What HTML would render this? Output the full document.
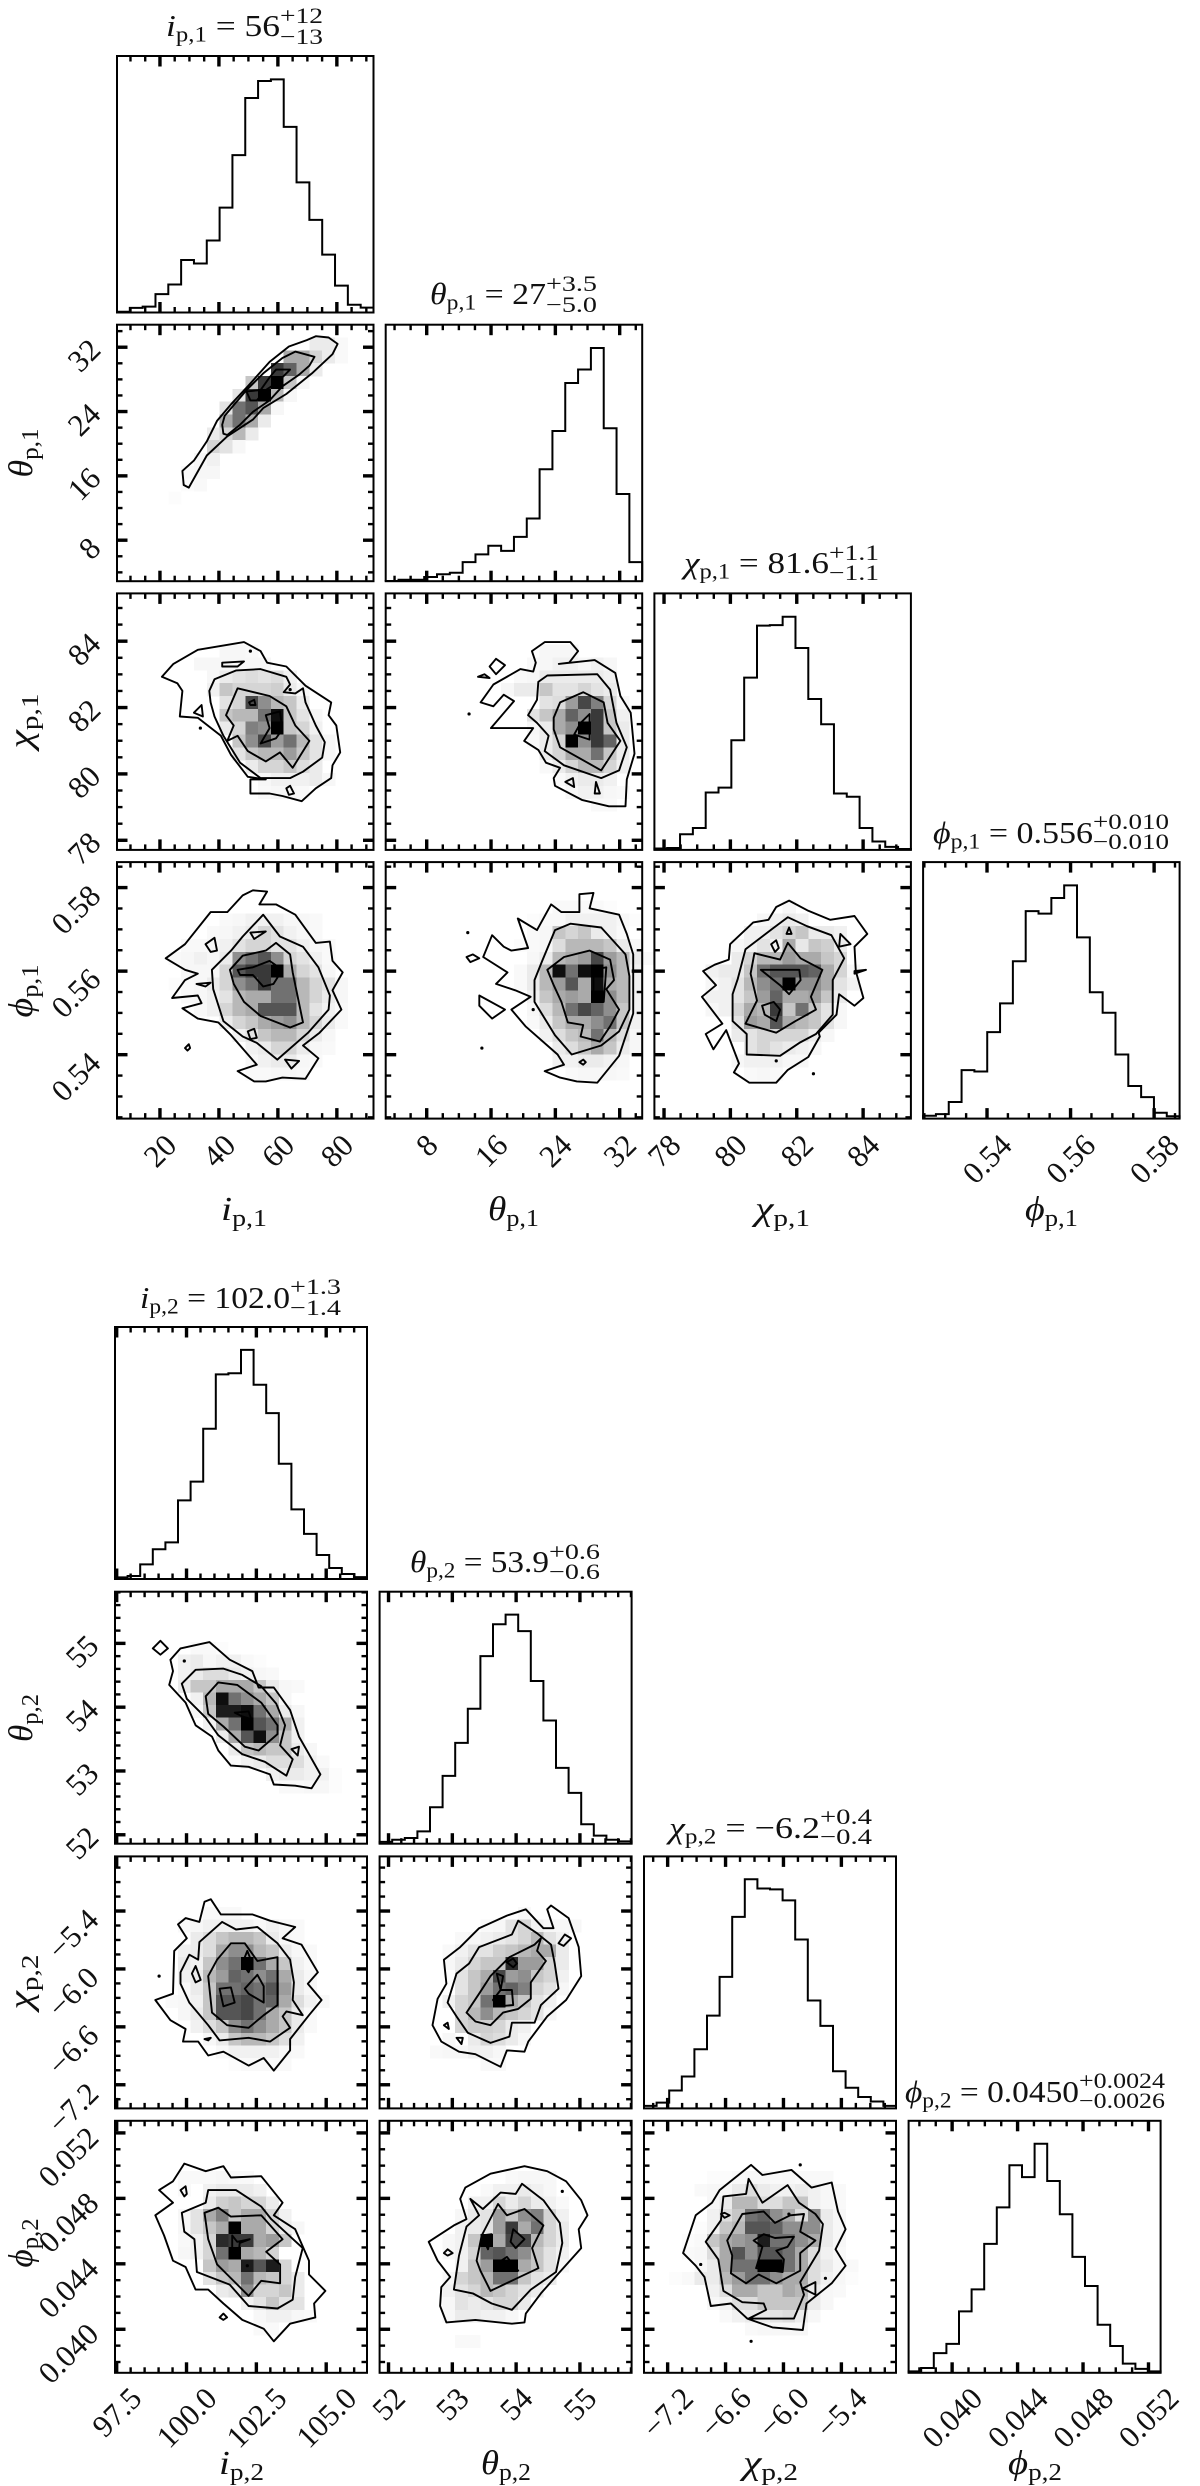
<!DOCTYPE html>
<html lang="en">
<head>
<meta charset="utf-8">
<title>Corner plots of planet orbital parameters</title>
<style>
html,body{margin:0;padding:0;background:#fff;}
svg{display:block;}
text{font-family:"Liberation Serif","DejaVu Serif",serif;fill:#111;}
</style>
</head>
<body>
<svg id="chart" xmlns="http://www.w3.org/2000/svg" width="1200" height="2486" viewBox="0 0 1200 2486"></svg>
<script>
/* ---------- 1-D histogram values (20 bins, percent of peak) ---------- */
const hist_i1=[0.3,2,2.5,7.9,12,22.5,21,30.9,45,67.5,92,99.3,100,79.6,55.8,39.7,24.8,11.5,3.3,2.1];
const hist_t1=[0.1,0.6,0.6,1.8,3,3.6,8.2,11.5,15.2,13,19,26.9,48,64.4,85,90.8,100,65.6,37.4,8.2];
const hist_c1=[0.6,0.8,6.7,9.4,24.6,26.7,47,73.9,96.2,96.4,100,86.6,64.7,53.9,24.2,22.8,9.4,3.6,1.3,0.4];
const hist_p1=[1.2,1.9,7.1,20.8,20.2,37.1,49.4,67.5,89,87.9,94.6,100,77.7,54.2,45.4,27.5,14,9.2,2.5,1];
const hist_i2=[0.7,1.3,6.4,13,16,34.3,42.5,65.6,89.3,89.8,100,84.8,72.4,50.3,30.4,19.7,10.5,4.8,2.2,0.8];
const hist_t2=[0.8,1.7,2.5,5.4,15.9,29.6,44,58.9,81.9,95.8,100,92.8,71,53.8,33.1,22.2,8.5,3.5,1.7,1];
const hist_c2=[1.1,2.5,7.8,13.9,25.8,40.5,57.4,83.6,100,96,95.6,90.8,73.7,47.1,36,16.2,9,5,3,1.1];
const hist_p2=[0.6,2.1,8.6,12.6,26.8,36.4,56.3,72.2,90.6,85.4,100,83.7,69.2,50.6,37.9,21,11.7,4,1.7,0.6];

/* ---------- 2-D density: [rowBin, startColBin, density 0-9 ...] ---------- */
const heat_i1_t1=[[18,15,.7,.7,.2],[17,13,3,3,1.5,.7,.2],[16,12,7,5.5,3,.7],[15,10,2,7,9,2,.3],[14,9,1,7,9,2.5,.3],[13,8,1,5,6,3,.3],[12,8,3,5,3,.7],[11,7,.7,1.5,2.5,.7],[10,7,1.5,1,.3],[9,6,.3,.5],[8,5,.2,.3,.3],[7,5,.1,.2],[6,4,.1]];
const heat_i1_c1=[[15,8,.3,.3,.2],[14,6,.3,.3,.3,.3,.3,.3],[13,7,.3,.7,1,1.2,1,1.2,.5],[12,7,.5,2,1.5,1.5,1.5,1.7,.7,.3],[11,8,1,1.5,6.5,4,2.5,2,.7],[10,8,2,2.5,2.5,5,8.5,2,1,.3],[9,8,.7,1.5,4.5,4,9,2,1.5,.5],[8,9,2,4,6.5,3.5,5,2.5,1,.3],[7,9,1,2,2.5,2.5,3.5,2,1,.3],[6,10,.7,1.5,1.5,2,1.2,.7],[5,11,.3,.5,.5,.5,.7,.3],[4,11,.2,.3,.3,.2]];
const heat_i1_p1=[[15,8,.2,.3,.5,.5,.5,.3,.3,.2],[14,7,.2,.3,.5,.7,1.5,1,.5,.3,.2],[13,5,.2,.2,.3,.5,1,1.5,1.5,1,1,.5,.3,.2],[12,4,.2,.3,.5,.3,.7,4,5,6,4,1.5,1,.5,.2],[11,5,.3,.3,.3,1.5,6,7,7,9,3,1.5,1,.3],[10,4,.1,.2,.3,.7,1.5,4,5,7,5,5,2.5,1.5,1,.3],[9,5,.2,.3,.5,1,2.5,3,3,5,5,2.5,1.5,.7,.3],[8,6,.2,.5,1.5,2.5,3,6,6,6,2.5,1,.5,.2],[7,8,.7,1.5,2,3,3.5,4,2.5,1.5,.7,.2],[6,9,.5,1,2,2.5,2.5,1.5,.7,.3],[5,10,.5,.7,1.5,1.5,.7,.3,.2],[4,10,.3,.5,.7,.7,.3,.2],[3,10,.2,.2,.3,.3,.2]];
const heat_t1_c1=[[15,12,.3,.3,.3],[14,11,.2,.3,.5,.5,.3,.5,.3],[13,10,.2,.3,.7,.7,.7,.7,.7,.5],[12,9,.3,.7,.7,2,1,1,1.5,1,.7],[11,12,1,1.2,3.5,6.5,4.5,1.5,.3],[10,11,1,2,3,5.5,4,7,2,.5],[9,11,.3,.7,3,4,9,7,2,.7],[8,11,.2,.7,1.5,9,4,7,5.5,.7],[7,12,.7,1.5,3,3,5,2,.7],[6,12,.2,.7,1.5,2.5,2.5,1.5,.5],[5,13,.2,.5,.7,.7,.5],[4,14,.3,.5,.5,.3,.2],[3,16,.2,.2]];
const heat_t1_p1=[[16,13,.2,.2,.2,.2,.1],[15,11,.1,.2,.2,.5,.5,.5,.5,.3,.1],[14,11,.2,.3,2,1.5,2,.7,.5,.2],[13,10,.1,.2,.3,1.2,2.5,2.5,2.5,2,.7,.3],[12,11,.3,.7,2.5,3,3.5,6.5,3.5,2.5,.7,.2],[11,10,.2,.7,2.5,8.5,5,8.5,9,4,2.5,.5],[10,10,.2,.7,2.5,3.5,6,3,8.5,3,2.5,.5],[9,11,.5,2,3,3.5,3,9,4,2.5,.5],[8,11,.3,1.2,2.5,5,6.5,5.5,4,2,.5],[7,11,.2,.7,2,3,3,4,5,2,.5],[6,12,.5,1.2,2,2.5,5,2.5,1.2,.3],[5,13,.7,1.2,2,3,2,.7,.3],[4,13,.5,.5,.7,.7,.5,.3],[3,14,.2,.3,.3,.3,.2]];
const heat_c1_p1=[[16,10,.3],[15,8,.3,.5,.7,.5],[14,7,.5,.5,1,1.5,2,.7,.7,.5],[13,6,.3,.5,1,.5,3,.8,2,1.7,.7],[12,6,.7,1.5,2.5,2.5,3.5,3,3,2,1.5],[11,4,.5,.7,.7,2,5,6,6,6,5.5,3,1.5,.3],[10,4,.3,.5,1,2.5,4,5,9,4,4,3,1,.5],[9,4,.5,.5,1,2,3.5,5.5,3,3,3.5,2,.7],[8,4,.3,.5,1.5,3,2.5,7,2,5,2,1,.3],[7,6,1,3.5,3,6,3,2.5,2,1,.3],[6,6,.7,1,1.5,1.5,1.5,1.5,.7,.3],[5,7,1,1.5,1,.7,.5,.3],[4,6,.3,.5,.5,.5,.3,.3],[3,7,.2,.3,.2]];
const heat_i2_t2=[[15,6,.2,.2,.1],[14,5,.5,.7,.3,.5,.5,.2,.1],[13,5,.5,.7,1.2,1.2,.7,.5,.3,.2],[12,5,.7,2,2,3,3,3,2,.7,.3,.2],[11,6,.5,2.5,8.5,5,4,3,2,.3],[10,6,.3,2,8,8,8.5,5,3,.7,.3],[9,7,.5,3,5,9,6,5,3,.5],[8,8,.7,3,6,8.5,4,2,.5],[7,9,.7,2,2.5,2,2,.7,.3],[6,9,.2,.5,.7,1.2,1.2,1.2,.5,.2],[5,12,.5,.7,.7,.5,.5,.1],[4,13,.2,.2,.3,.3,.1]];
const heat_i2_c2=[[15,7,.2,.2,.2],[14,5,.2,.3,.5,.5,.5,.5,.3,.5,.3,.2],[13,6,.7,1.2,2,2.5,2.5,2,.7,.3,.2],[12,5,.5,.7,1.2,3,4,4,2.5,2,.7,.3,.2],[11,5,.7,.5,2,4,5,9,5,3,2,.5,.2],[10,5,.5,.7,2.5,3.5,5.5,5,4,5,3,.7,.3],[9,5,.2,.7,2,5,5,5.5,5,6,3.5,.7,.3],[8,4,.2,.3,.5,2,6,6,6.5,5,5.5,3,1.2,.5,.2],[7,5,.3,.7,2,6,6,6.5,5,3,2,.7,.2],[6,6,.5,1.2,2,4,5,4,3,2,.7,.2],[5,7,.3,.7,2,2.5,2.5,2,1.2,.5],[4,8,.2,.5,.5,.5,.5,.3,.2],[3,9,.1,.2,.2,.2,.2]];
const heat_i2_p2=[[15,5,.2,.2,.2,.3,.2,.2],[14,5,.2,0,.5,.7,.7,.7,.5],[13,7,.7,1.7,2,1.5,1.5,.7],[12,5,.3,1,3,4.5,2,3,3,1.5,.5],[11,5,.3,1,2,3,9,3,3,1.5,.7,.3],[10,5,.2,.5,1.5,7.5,7,7,3,3.5,2],[9,5,.3,.5,1.5,5,9,3,2.5,1.5],[8,7,2,3.5,3,8,6,8,1.5],[7,7,1,2,2.5,5,2.5,2,1.5,.7],[6,8,.7,1,4,1.5,1.5,2,.7],[5,10,.5,1,2,1,1],[4,11,.3,.5,.5,.3,.2],[3,11,.2,.2]];
const heat_t2_c2=[[15,11,.2],[14,8,.2,.3,1,1.5,.5,.3,.3,.3],[13,6,.2,.3,.5,.7,1,1.5,2.5,1,.5],[12,5,.2,.5,1,1,1.7,2,2.5,3,3,.7],[11,5,.3,.7,1.5,2,2,7.5,3.5,3.5,1.5,.7],[10,6,1,2,3,6.5,3.5,4,2,1.5,.5],[9,6,1,2,3.5,5,5.5,4.5,1.5,1,.3],[8,5,.5,1.5,2,5,9,3,2,1,.5],[7,6,1.5,2.5,4,2.5,2,1.5,1,.3],[6,6,1.5,1.8,1.7,1.5,.7,.5],[5,5,.3,0,.7,1.5,1.2,.7,.3],[4,4,.2,.3,.3,.5,.5,.3],[3,8,.2,.2]];
const heat_t2_p2=[[15,10,.2,.3,.3,.3],[14,8,.2,.5,.5,.7,.5,.3],[13,7,.5,.5,1.5,.7,1.5,.7,.5,.2],[12,6,.3,.7,1,3.5,2,4,4.5,1.5,.5],[11,6,.5,.7,1,3.5,7,3,5,1.5,.7],[10,5,.3,.5,2,9,3,6.5,6.5,2.5,1.5,.7],[9,5,.3,.5,1.5,5.5,6,5,4,2,1,.5],[8,6,.5,2,3.5,9,9,3,2,1,.3],[7,5,.3,1.5,2,2.5,5,5,2,1,.7],[6,5,.5,1,1.5,2.5,2,1.5,1,.7],[5,5,.3,1,.7,1,1.5,1.5,.7],[4,5,.3,.7,.7,.5,.5,.3],[2,6,.2,.2]];
const heat_c2_p2=[[15,5,.1,.1,.2,.3,.3,.2,.3,.2,.2,.2],[14,4,.2,.3,.3,.7,1.2,.7,.5,.5,.7,.5,.3,.2],[13,5,.3,.7,2.5,2.5,1.2,1.2,2,2,.5,.3,.2],[12,5,.5,1.2,2,5,5.5,4,3,1.2,4,.7,.3],[11,4,.1,.5,2,2.5,6,6,5.5,4,4,4,.7,.3],[10,3,.1,.2,2,3,3.5,4,8,5,5,4,3,.7,.3],[9,3,.2,.3,1.2,3,6,4,6,6,5,3,1.2,.5,.2],[8,4,.3,.7,3,5,5,9,9,5,3,1.2,.7,.3,.2],[7,2,.1,.2,.7,.7,2.5,3.5,5,5,4,3,3,1.2,.5,.3,.1],[6,5,.5,1.2,3,3,2,2,3,2.5,.7,.3,.2],[5,5,.3,.5,1.2,1.2,2,2,2,2,.7,.3],[4,6,.2,.5,.7,.7,1,1.2,.7,.3],[3,8,.2,.3,.3,.3,.3]];

/* ---------- contour vertices in bin units: x,y,x,y ... ---------- */
const contour_i1_t1=[[5.1,8.6,6,9.4,7,10.9,7.8,12.5,8.9,13.8,10.2,15.2,11.9,17.1,13.4,18.3,14.8,18.8,15.5,19.1,16.5,19,17.2,18.5,16.8,17.7,15.2,16.2,13.2,14.6,11.4,13.5,10.6,12.6,8.6,11.3,7,9.8,5.6,7.3,5.2,7.5],[8.3,11.5,8.2,12.2,8.4,12.9,10.1,14.9,11.4,16.2,12.9,17.4,13.9,17.9,15.4,17.5,15,16.8,14.2,16.1,12.9,15.2,11.9,14.1,10.6,13.2,9.6,12.2,8.6,11.4],[10.4,14.1,10.1,14.8,11.2,14.9,11.9,15.9,12.4,16.5,13.5,16.5,12.9,15.9,12.2,15.3,11.6,14.9,10.9,14.1]];
const contour_i1_c1=[[3.5,13.5,4.4,14.5,6.3,15.6,9.9,16.2,11.2,15.5,11.7,14.6,13.2,14.3,14.7,12.8,16.7,11.5,16.5,10.5,17.1,9.7,17.4,7.6,16.8,6.6,16.7,5.6,15.5,4.8,14.4,3.8,12.9,4.2,11.9,4.4,10.4,4.4,10.4,5.5,11.6,5.5,10.2,5.7,8.9,7.4,8.1,8.9,6.3,10.3,4.9,10.4,5.1,12.4,4.7,13],[7.2,12.4,7.6,13.3,9.3,14,11.2,14.1,13.2,13.5,13.5,12.9,13,12.3,13.9,12.2,14.5,12.6,14.7,11.5,15.5,9.7,16.2,8.4,16,7.2,14.5,6.1,13.5,5.6,11.2,5.6,9.6,6.8,8.3,8.9,7.6,10.4,7.3,11.5],[8.5,10.5,9.4,12.6,11.9,12,13.2,11.2,13.9,9.7,15,8.5,13.7,6.4,12.7,7.6,11.6,6.9,10.2,7.7,9.4,8.9,8.6,8.5,9.1,9.7],[11.6,10.5,12.7,10.8,12.9,9.4,12.4,8.7,11.2,8.3,11.9,9.5],[8.2,14.6,9.9,14.7,9.4,14.3,8.2,14.3],[6,10.7,6.6,11.3,6.7,10.4],[13.2,4.8,13.5,5,13.8,4.4,13.4,4.3],[10.3,11.5,10.7,11.7,10.8,11.3,10.4,11.3]];
const contour_i1_p1=[[3.8,12.5,5.3,13.6,7.3,16.1,8.6,16.1,9.8,17.4,10.6,17.8,11.7,17.7,11.1,16.7,12.4,16.7,13.9,15.9,15.5,13.7,16.6,13.8,16.8,12.3,17.6,11.4,16.8,10,17.5,8.5,15.8,6.7,14.5,5.7,15.7,4.7,14.7,3.1,12.9,3.2,11.6,2.9,10.7,2.9,9.4,3.7,10.9,4.2,8.9,6.5,7.9,7.5,6.3,7.8,5.1,8.6,6.6,9,6.3,9.6,4.3,9.4,5.3,10.8,6.3,11.3,5.3,11.6],[7.4,11.6,8.9,13.1,9.8,14.2,11.4,15.9,12.7,14.2,14.5,13.4,15.7,11.8,16.6,9.6,16.5,8.5,14.9,6.7,12.5,4.6,10.9,5.9,9.8,6.4,8.3,7.6,7.5,10.1],[8.8,11.6,9.8,12.7,11.6,13.1,12.4,13.7,13.5,12.8,13.7,11.4,14.5,7.5,13.5,7.1,11.2,8,9.9,9.1,9.1,10.5],[9.4,11.6,10.6,11.8,11.9,12.3,12.9,11.6,12.2,10.5,11.4,10.3,10.6,11.2,9.6,11.2],[10.4,14.5,11.6,14.6,10.7,14],[6.9,13.6,7.6,14.1,7.8,13.1,7.3,13],[6.2,10.5,7.3,10.6,6.9,10.3],[10.2,6.8,10.7,7,10.9,6.3,10.4,6.2],[13.1,4.6,14.2,4.5,13.6,3.9],[5.3,5.5,5.6,5.8,5.7,5.5,5.5,5.3]];
const contour_t1_c1=[[7.4,11.5,8.4,12.9,10.5,14.1,11.5,13.9,11.7,14.6,11.4,15.5,12.4,16.2,14.4,16.2,15,15.5,14.3,14.6,13.5,14.5,16.3,14.8,17.9,13.8,18.3,12,19.1,10.7,19.4,7.5,18.8,5.5,18.7,3.4,17.4,3.4,15.3,3.9,13.2,5,13.1,5.6,13.6,6.4,12.5,6.8,11.9,7.8,10.8,8.5,11.5,9.5,8.2,9.5,10,11.6,9.2,12.1,8.4,11.2]
,[11.1,10.5,11.8,11.7,11.9,13.1,12.6,13.6,16.5,13.7,17.5,12.5,18,9.9,18.8,8,18.2,6.2,16.8,5.6,13.9,6.6,12.4,7.7,12.7,8.9,11.8,9.9],[13.1,10.3,13.6,11.5,15.4,12.3,17,11.5,17.3,9.9,18.3,8.5,16.8,6.2,15.2,7.1,13.6,8,13.1,9.4],[15.9,10.6,15.9,8.6,14.7,9,15.2,9.9],[8.1,14.3,8.6,14.9,9.3,14.4,8.6,13.7],[7.2,13.5,7.7,13.7,8.1,13.4],[14,5.3,14.6,5.6,14.7,4.9],[16.3,4.4,16.4,5.3,16.7,4.4]];
const contour_t1_p1=[[7.6,12.6,8.3,14.3,9.2,13.4,9.8,13.1,11.1,13.3,10.3,15.6,11.8,14.7,12.9,16.7,13.7,16.1,15.1,16.1,15.1,17.5,16.2,17.6,15.9,16.4,18.2,15.9,18.8,14.4,19.3,12.8,19.3,8.2,18.2,4.9,16.5,2.8,14.9,2.9,13.6,3.2,12.4,3.7,13.9,4.2,13.4,5,10.9,7.2,9.8,8.5,11.3,9.5,10.1,10,8.6,10.5,9.5,11.4],[11.6,10.8,12.2,12.3,13.2,14.7,14.4,15.2,16.8,14.9,18.7,12.8,19,11.1,19,8.5,18.2,6.8,16.8,5.7,14.5,5,13.2,6.5,11.6,9.1],[12.6,11.6,13.9,12.6,15.9,13.1,17.5,12.4,17.8,10.8,17.2,10.1,18.2,8.5,17.5,7.2,16.7,6,15.2,6.4,15.4,7.3,14.2,7.5,13.7,9.1,13.1,10.4],[16.2,11.6,17.2,11.8,17,9.1,16.2,9.1,16.2,10.8],[7.3,9.6,9.3,8.5,8.3,7.8,7.3,8.8],[6.3,12.6,6.8,12.8,7.3,12.5,6.6,12.2],[15.1,4.4,15.4,4.6,15.6,4.4,15.4,4.2]];
const contour_c1_p1=[[3.8,11.5,4.7,12,5.8,12.4,5.9,13.6,7.7,15.3,8.9,15.5,9.5,16.5,10.5,17,12,16.2,13.7,15.5,15.6,15.8,16.6,14.4,15.6,13.4,15.7,11.5,16.3,9.4,15.6,8.8,14.4,9.7,14.2,8.1,12.8,6.7,12.9,6.4,12,4.8,10.4,3.8,9.5,2.8,7.4,2.8,6.2,3.6,6.6,4.3,5.6,6.9,4.6,5.4,4,6.6,5.3,7.4,3.7,9.5,4.8,10.4],[6.5,10.9,7.1,13.2,9.2,14.8,10.4,15.7,11.9,15,13.8,14.3,14.8,12.5,13.9,10.8,13.9,8.1,12.6,6.6,11.3,5.9,9.8,4.9,7.2,5,7.2,6.6,6.1,7.6,6.1,9.7],[7.5,11.3,7.8,12.9,9.8,12.4,10.4,13.7,11.4,12.5,13.1,11.6,12.2,9.5,12.6,8.5,11,7.6,9.5,6.7,7.1,7.4,8,9.2],[8.3,11.6,11.3,11.6,11.4,10.8,10.5,9.7,9.8,10.4],[8.4,8.8,9.3,9.1,9.8,8.5,9.5,7.6,8.6,8.1],[9.1,13.6,9.5,13.9,9.7,13.3,9.4,13],[10.3,14.4,10.5,14.9,10.7,14.4],[14.5,14.4,15.3,13.6,14.4,13.4],[15.6,11.5,16.5,11.6,15.6,11.3]];
const contour_i2_t2=[[4.4,14.6,5.2,15.5,7.5,16,9.1,14.6,10.9,13.7,11.4,12.4,12.6,12.4,13.9,10.6,14.6,8.5,15.4,7.1,16.3,5.5,15.6,4.4,14.3,4.6,12.6,4.7,12.3,5.5,10.6,6.1,9.2,6.2,8.2,7.4,7.7,8.5,6.4,9.4,5.6,11.2,4.3,12.6,4.6,13.7],[5.3,12.7,6.4,13.8,8.6,13.9,10.1,13.4,11.6,12.5,12.8,11.1,13.5,9.4,13.1,7.8,14.1,6.7,13.6,5.4,11.9,6.5,10.1,7.1,8.2,8.6,7.2,10,5.7,11.5],[7.2,11.7,8.2,12.8,9.7,12.6,11.6,11.2,12.9,9.4,12.9,8.7,11.4,7.4,10.3,7.7,8.6,9.3,7.4,10.3],[9.5,10.4,10.6,10.5,10.8,9.9,10.1,10.1],[3,15.5,3.6,16.1,4.2,15.5,3.6,15],[14,7.5,14.6,7.7,14.5,7]];
const contour_i2_c2=[[3.2,8.6,4.6,9.1,4.7,12.5,5.7,13.5,5,14.6,5.6,15.1,6.7,14.8,7.1,16.4,7.6,16.6,8.4,15.4,10.9,15.4,12.3,14.9,14.3,14.4,13.3,13.5,14.8,13,16.1,10.8,15.3,9.9,16.4,8.6,15.4,7.4,13.9,5.5,13.9,4.6,12.6,3,11.8,4,10.6,3.4,8.6,4.5,7.4,4.2,6.6,5.3,5.4,5.3,5.6,6.3,4.4,7],[5.2,10.8,5.9,12.2,6.6,11.8,6.7,13.2,8.5,14.8,9.6,14.2,11.3,14.4,12.9,13.1,13.9,11.8,14.2,10,14.1,8.6,14.9,7.4,13.6,7.7,13.3,7.3,13.9,6.4,12.3,5.3,10.6,5.6,8.3,5.4,7.4,6.6,5.9,8.4,5.2,9.9],[7.4,10.5,8.1,11.8,9.2,13.1,10.3,13.1,11.3,11.7,12.9,12,12.9,8.2,11.8,7.4,10.6,6.4,8.9,6.6,7.7,7.6],[8.3,9.5,9.2,9.6,9.5,8.4,8.6,8.1],[10.3,9.5,11.3,10.6,11.8,9.7,11.8,8.4,10.6,9.1],[10.1,11.5,10.5,12.5,10.9,11.5,10.6,10.8],[6.1,10.7,6.4,11.3,6.8,10.2,6.4,10],[7.1,5.5,7.6,5.6,7.4,5.4]];
const contour_i2_p2=[[3.5,14.5,4.6,15.2,5.5,16.6,7.2,16,8.6,16.4,9.2,15.5,11.6,15.6,13.3,13.5,12.6,12.5,14.3,11.4,15.4,8.9,15.4,7.8,16.7,6.5,15.8,5.5,15.9,4.4,13.9,3.9,12.6,2.5,11.8,3.5,10.1,4.2,8.6,5.5,7.4,6.6,6.4,6.6,5.6,8.4,4.6,8.9,3.9,10.9,3.2,12.5,4.6,13.5],[5.3,12.7,7.2,13.5,7.4,14.5,9.6,14.5,11.6,13.2,12.4,12.2,14.9,9.9,14.3,7.6,14.1,5.8,12.9,5.1,10.6,5.3,9.1,7,6.5,8,6.3,10.6,5.5,11.2],[7.1,12.7,8.2,13.1,9.2,12.4,11.6,12.5,13.3,10.6,12,9.6,13.1,8.6,13.1,7.1,11.6,7.3,10.6,6.1,9.1,7.6,8.1,8.6,7.4,10.6],[9.3,10.9,9.7,10.4,10.7,10.6,9.9,10.3,9.8,9.3,9.3,9.1],[5.2,14.5,5.6,14.8,5.7,14.2,5.5,14],[8.3,4.4,8.6,4.7,8.9,4.4,8.6,4.2]];
const contour_t2_c2=[[4.2,6.6,4.6,8.7,5.3,9.9,5.1,11.8,6.4,12.8,7.9,14.3,10.1,15.3,11.6,15.8,13,14.3,13.8,14.3,13.3,15.8,13.6,16.1,15,15.1,15.8,12.8,16,10.5,14.8,8.6,13.3,7.3,11.8,5.3,11.5,4.5,10.1,4.6,9.6,3.3,8.8,3.7,7.6,4.3,6.3,4.5,4.9,5.3],[5.4,8.4,6.1,10.7,7.1,11.5,7.9,12.8,10.5,13.8,11,14.9,12.5,13.9,13.6,13,13.9,11.5,14.2,9.5,12.8,8.2,12.3,6.8,10.5,6.8,10.3,5.7,8.8,5.2,7,6,6.1,7.3],[6.9,7.6,7.9,9.1,8.8,10.5,10.3,12,12.3,13,12.8,13.5,12.5,12.5,13.2,11.7,12,10,12,8.7,11,7.9,9.8,7.6,8.8,6.6,7.6,6.9],[9,8.6,9.6,9.4,9.3,10.7,9.8,10.5,9.6,9.4,10.5,9.4,10.6,8.2,9.4,8.1],[10.1,11.6,10.6,11.9,10.9,11.5,10.6,11.2],[14.2,13.1,14.7,13.8,15.2,13.5,14.6,12.9],[5.1,6.6,5.4,6.8,5.5,6.3],[6.1,5.6,6.6,5.6,6.5,5.1]];
const contour_t2_p2=[[3.9,10.4,5.9,11.7,6.9,12.2,6.4,13.8,6.8,14.7,8.8,15.8,11.5,16.4,13.3,16,14.8,15.2,16,13.7,16.5,12.5,15.8,11.4,16,9.9,14.3,8,12.8,6.3,11.6,4.7,11.5,4,10.5,3.9,7.6,4.2,5.3,4,4.8,5.3,4.9,6.8,5.6,7.6,4.6,8.9],[5.9,6.6,6.3,9.3,6.9,11.6,7.9,12.5,7.2,13.8,8.2,13,9.6,14.3,10.8,14.2,11.3,15,13,13.7,14.3,11.9,14.5,10.3,14,8,12,6.6,10.5,5,8.9,5.5,7.4,6.3],[7.7,8.9,8.1,10.9,9.4,13.4,10.1,12.5,11.5,13,13,11.7,12.1,9.9,12.6,8.3,10.9,7.5,8.8,6.5,8,8.1],[10.4,10.4,10.6,11.4,11.5,10.6,10.8,9.9],[9.2,8.6,10.1,9.2,11,8.1,9.6,8.1],[8.1,10.9,8.9,11,8.6,9.8],[5.1,9.5,5.4,9.8,5.8,9.5,5.4,9.3]];
const contour_c2_p2=[[3.1,9.5,4.1,12.5,5.4,13.5,6,14.5,8.5,16.5,9.4,15.7,11.7,16.1,13.3,14.7,14.9,15.1,15.4,12.8,16,11.4,15.2,9.8,16,8.5,14.9,7.1,12.9,5.5,12.6,3.4,10.2,3.6,8.2,4.3,6.9,5.5,5.3,5.3,4.8,7.6,4.1,8.5],[4.9,10.4,6.1,12.1,6.3,14,8.1,14.2,8.3,15.4,9.4,13.5,11.4,14.9,12.3,13.5,13.6,12.6,14.2,11.8,13.9,9.7,12.4,7.2,12.7,6.2,11.9,4.3,8.3,4.3,9.7,5,9.5,5.5,7.8,5.6,6.3,6.5,5.9,9],[6.6,10.5,7.8,12.6,9.5,12.8,10.4,11.9,11.6,12.5,12.7,12.6,12.4,11.2,13.6,10.5,12.4,9.5,12.4,8.1,10.5,7.1,9.1,7.8,8.1,7.1,6.9,7.9,7,9.3],[8.7,10.5,9.5,11,10.4,10.7,11.9,10.8,11.4,10,10.5,9.7,11.1,9,11,8,8.9,8.3,9.2,9.3,9.4,10],[6.1,12.6,6.4,12.7,6.8,12.5,6.4,12.3],[12.6,6.7,13.6,7.2,13.6,6.2]];

/* isolated one-cell contour specks: x,y bin units */
const dots_i1_t1=[];
const dots_i1_c1=[[10.4,15.5],[6.5,9.5],[13.5,12.5]];
const dots_i1_p1=[];
const dots_t1_c1=[[6.5,10.6]];
const dots_t1_p1=[[6.4,14.5],[7.5,5.5],[11.5,8.5]];
const dots_c1_p1=[[9.5,4.5],[12.4,3.5]];
const dots_i2_t2=[[5.5,14.5]];
const dots_i2_c2=[[3.5,10.5]];
const dots_i2_p2=[[10.5,8.5]];
const dots_t2_c2=[];
const dots_t2_p2=[[14.5,14.4]];
const dots_c2_p2=[[11.5,12.6],[4.5,8.6],[14.4,7.5],[8.5,2.5],[12.4,16.5]];

/* ---------- axis ticks ---------- */
const ticks_i1=[20,40,60,80];
const ticks_t1=[8,16,24,32];
const ticks_c1=[78,80,82,84];
const ticks_p1=[0.54,0.56,0.58];
const ticks_i2=[97.5,100,102.5,105];
const ticks_t2=[52,53,54,55];
const ticks_c2=[-7.2,-6.6,-6,-5.4];
const ticks_p2=[0.04,0.044,0.048,0.052];
const labels_i1=["20","40","60","80"];
const labels_t1=["8","16","24","32"];
const labels_c1=["78","80","82","84"];
const labels_p1=["0.54","0.56","0.58"];
const labels_i2=["97.5","100.0","102.5","105.0"];
const labels_t2=["52","53","54","55"];
const labels_c2=["\u22127.2","\u22126.6","\u22126.0","\u22125.4"];
const labels_p2=["0.040","0.044","0.048","0.052"];

const axesUpper=[
 {min:5.43,max:92.43,minor:5,ticks:ticks_i1,labels:labels_i1,hist:hist_i1},
 {min:2.9,max:34.8,minor:2,ticks:ticks_t1,labels:labels_t1,hist:hist_t1},
 {min:77.71,max:85.44,minor:0.5,ticks:ticks_c1,labels:labels_c1,hist:hist_c1},
 {min:0.5247,max:0.5861,minor:0.005,ticks:ticks_p1,labels:labels_p1,hist:hist_p1}];
const axesLower=[
 {min:97.44,max:106.46,minor:0.5,ticks:ticks_i2,labels:labels_i2,hist:hist_i2},
 {min:51.86,max:55.81,minor:0.2,ticks:ticks_t2,labels:labels_t2,hist:hist_t2},
 {min:-7.445,max:-4.834,minor:0.15,ticks:ticks_c2,labels:labels_c2,hist:hist_c2},
 {min:0.03734,max:0.05274,minor:0.001,ticks:ticks_p2,labels:labels_p2,hist:hist_p2}];
const gridUpper={"1,0":[heat_i1_t1,contour_i1_t1,dots_i1_t1],"2,0":[heat_i1_c1,contour_i1_c1,dots_i1_c1],"3,0":[heat_i1_p1,contour_i1_p1,dots_i1_p1],"2,1":[heat_t1_c1,contour_t1_c1,dots_t1_c1],"3,1":[heat_t1_p1,contour_t1_p1,dots_t1_p1],"3,2":[heat_c1_p1,contour_c1_p1,dots_c1_p1]};
const gridLower={"1,0":[heat_i2_t2,contour_i2_t2,dots_i2_t2],"2,0":[heat_i2_c2,contour_i2_c2,dots_i2_c2],"3,0":[heat_i2_p2,contour_i2_p2,dots_i2_p2],"2,1":[heat_t2_c2,contour_t2_c2,dots_t2_c2],"3,1":[heat_t2_p2,contour_t2_p2,dots_t2_p2],"3,2":[heat_c2_p2,contour_c2_p2,dots_c2_p2]};

const symbols=["i","\u03B8","\u03C7","\u03D5"];
const titlesUpper=[
 {sub:"p,1",val:"56",up:"+12",dn:"\u221213",x0:166,x1:280,x2:323,base:36,supY:23,subY:44},
 {sub:"p,1",val:"27",up:"+3.5",dn:"\u22125.0",x0:430,x1:546,x2:597,base:304,supY:291,subY:312},
 {sub:"p,1",val:"81.6",up:"+1.1",dn:"\u22121.1",x0:684,x1:829,x2:879,base:573,supY:560,subY:580},
 {sub:"p,1",val:"0.556",up:"+0.010",dn:"\u22120.010",x0:933,x1:1093,x2:1169,base:843,supY:829,subY:849}];
const titlesLower=[
 {sub:"p,2",val:"102.0",up:"+1.3",dn:"\u22121.4",x0:140,x1:290,x2:341,base:1308,supY:1294,subY:1315},
 {sub:"p,2",val:"53.9",up:"+0.6",dn:"\u22120.6",x0:410,x1:549,x2:600,base:1572,supY:1559,subY:1579},
 {sub:"p,2",val:"\u22126.2",up:"+0.4",dn:"\u22120.4",x0:669,x1:820,x2:872,base:1838,supY:1824,subY:1844},
 {sub:"p,2",val:"0.0450",up:"+0.0024",dn:"\u22120.0026",x0:905,x1:1079,x2:1165,base:2102,supY:2088,subY:2108}];

const NS="http://www.w3.org/2000/svg";
const svg=document.getElementById("chart");
const BINS=20;

function make(tag,parent,name){
  const e=document.createElementNS(NS,tag);
  
  
  parent.appendChild(e);
  return e;
}
function fit(t,w){
  t.setAttribute('textLength',w);
  t.setAttribute('lengthAdjust','spacingAndGlyphs');
}
function mathText(parent,name,sym,sub,x,y,size,transform){
  const t=make('text',parent,name);
  t.setAttribute('x',x);
  t.setAttribute('y',y);
  t.setAttribute('font-size',size);
  if(transform){t.setAttribute('transform',transform);t.setAttribute('text-anchor','middle');}
  const a=document.createElementNS(NS,'tspan');
  a.setAttribute('font-style','italic');
  a.textContent=sym;
  t.appendChild(a);
  const b=document.createElementNS(NS,'tspan');
  b.setAttribute('font-size',size*0.7);
  b.setAttribute('dy',size*0.18);
  b.textContent=sub;
  t.appendChild(b);
  return t;
}
function drawTitle(parent,sym,d,i){
  const g=make('g',parent,'panel-title-'+i);
  const t=mathText(g,'title-main',sym,d.sub,d.x0,d.base,31);
  const c=document.createElementNS(NS,'tspan');
  c.setAttribute('dy',-31*0.18);
  c.textContent=" = "+d.val;
  t.appendChild(c);
  fit(t,d.x1-d.x0);
  const u=make('text',g,'title-upper-error');
  u.setAttribute('x',d.x1);
  u.setAttribute('y',d.supY);
  u.setAttribute('font-size',22);
  u.textContent=d.up;
  fit(u,d.x2-d.x1);
  const l=make('text',g,'title-lower-error');
  l.setAttribute('x',d.x1);
  l.setAttribute('y',d.subY);
  l.setAttribute('font-size',22);
  l.textContent=d.dn;
  fit(l,d.x2-d.x1);
}
function line(parent,name,x1,y1,x2,y2,w){
  const l=make('line',parent,name);
  l.setAttribute('x1',x1);
  l.setAttribute('y1',y1);
  l.setAttribute('x2',x2);
  l.setAttribute('y2',y2);
  l.setAttribute('stroke','#000');
  l.setAttribute('stroke-width',w);
}
function minorList(ax){
  const out=[];
  const first=Math.ceil(ax.min/ax.minor);
  for(let k=first;k*ax.minor<=ax.max;k++){
    const v=k*ax.minor;
    if(!ax.ticks.some(t=>Math.abs(t-v)<ax.minor*0.1))out.push(v);
  }
  return out;
}
function drawXTicks(g,ax,X,x0,y0,S){
  minorList(ax).forEach(v=>{
    line(g,'x-minor-tick-top',X(v),y0,X(v),y0+5.5,2.4);
    line(g,'x-minor-tick-bottom',X(v),y0+S,X(v),y0+S-5.5,2.4);
  });
  ax.ticks.forEach(v=>{
    line(g,'x-major-tick-top',X(v),y0,X(v),y0+10.5,3.4);
    line(g,'x-major-tick-bottom',X(v),y0+S,X(v),y0+S-10.5,3.4);
  });
}
function drawYTicks(g,ax,Y,x0,y0,S){
  minorList(ax).forEach(v=>{
    line(g,'y-minor-tick-left',x0,Y(v),x0+5.5,Y(v),2.4);
    line(g,'y-minor-tick-right',x0+S,Y(v),x0+S-5.5,Y(v),2.4);
  });
  ax.ticks.forEach(v=>{
    line(g,'y-major-tick-left',x0,Y(v),x0+10.5,Y(v),3.4);
    line(g,'y-major-tick-right',x0+S,Y(v),x0+S-10.5,Y(v),3.4);
  });
}
function frame(g,x0,y0,S){
  const r=make('rect',g,'panel-frame');
  r.setAttribute('x',x0);
  r.setAttribute('y',y0);
  r.setAttribute('width',S);
  r.setAttribute('height',S);
  r.setAttribute('fill','none');
  r.setAttribute('stroke','#000');
  r.setAttribute('stroke-width',2);
}
function drawHist(g,values,x0,y0,S){
  const peak=Math.max(...values);
  const bx=b=>x0+b/BINS*S;
  const by=v=>y0+S-v/(peak*1.1)*S;
  let d="M"+bx(0)+" "+(y0+S);
  values.forEach((v,i)=>{d+="L"+bx(i)+" "+by(v)+"L"+bx(i+1)+" "+by(v);});
  d+="L"+bx(BINS)+" "+(y0+S);
  const p=make('path',g,'histogram-steps');
  p.setAttribute('d',d);
  p.setAttribute('fill','none');
  p.setAttribute('stroke','#000');
  p.setAttribute('stroke-width',2);
  p.setAttribute('stroke-linejoin','miter');
}
function drawDensity(g,set,x0,y0,S){
  const bx=b=>x0+b/BINS*S;
  const by=b=>y0+S-b/BINS*S;
  const heat=set[0],contours=set[1],dots=set[2];
  heat.forEach(rowData=>{
    const row=rowData[0],start=rowData[1];
    rowData.slice(2).forEach((v,i)=>{
      if(v<=0)return;
      const shade=Math.round(255*(1-v/9));
      const c=make('rect',g,'density-cell');
      c.setAttribute('x',bx(start+i));
      c.setAttribute('y',by(row+1));
      c.setAttribute('width',S/BINS+0.3);
      c.setAttribute('height',S/BINS+0.3);
      c.setAttribute('fill','rgb('+shade+','+shade+','+shade+')');
      c.setAttribute('shape-rendering','crispEdges');
    });
  });
  contours.forEach(pts=>{
    let d="";
    for(let k=0;k<pts.length;k+=2){d+=(k?"L":"M")+bx(pts[k]).toFixed(1)+" "+by(pts[k+1]).toFixed(1);}
    const p=make('path',g,'density-contour');
    p.setAttribute('d',d+"Z");
    p.setAttribute('fill','none');
    p.setAttribute('stroke','#000');
    p.setAttribute('stroke-width',1.9);
    p.setAttribute('stroke-linejoin','round');
  });
  dots.forEach(pt=>{
    const c=make('circle',g,'density-speck');
    c.setAttribute('cx',bx(pt[0]));
    c.setAttribute('cy',by(pt[1]));
    c.setAttribute('r',1.6);
    c.setAttribute('fill','#000');
  });
}
function tickLabelX(parent,text,x,top){
  const t=make('text',parent,'x-tick-label');
  t.setAttribute('font-size',31);
  t.setAttribute('text-anchor','middle');
  t.setAttribute('dominant-baseline','central');
  t.textContent=text;
  const w=t.getComputedTextLength();
  const cy=top+(w+20)*0.354;
  t.setAttribute('transform','translate('+x+' '+cy+') rotate(-45)');
}
function tickLabelY(parent,text,y,right){
  const t=make('text',parent,'y-tick-label');
  t.setAttribute('font-size',31);
  t.setAttribute('text-anchor','middle');
  t.setAttribute('dominant-baseline','central');
  t.textContent=text;
  const w=t.getComputedTextLength();
  const cx=right-(w+20)*0.354;
  const cy=y+Math.min(24,8+Math.max(0,w-31)*0.6);
  t.setAttribute('transform','translate('+cx+' '+cy+') rotate(-45)');
}
function drawFigure(fig){
  const root=make('g',svg,fig.name);
  const S=fig.size;
  for(let r=0;r<4;r++){
    for(let c=0;c<=r;c++){
      const x0=fig.x[c],y0=fig.y[r];
      const g=make('g',root,'panel-row'+r+'-col'+c);
      const ax=fig.axes[c],ay=fig.axes[r];
      const X=v=>x0+(v-ax.min)/(ax.max-ax.min)*S;
      const Y=v=>y0+S-(v-ay.min)/(ay.max-ay.min)*S;
      if(r===c){
        drawHist(g,ax.hist,x0,y0,S);
        drawXTicks(g,ax,X,x0,y0,S);
      }else{
        drawDensity(g,fig.grid[r+","+c],x0,y0,S);
        drawXTicks(g,ax,X,x0,y0,S);
        drawYTicks(g,ay,Y,x0,y0,S);
      }
      frame(g,x0,y0,S);
      if(r===3){
        ax.ticks.forEach((v,i)=>tickLabelX(g,ax.labels[i],X(v),y0+S+fig.labelGap));
      }
      if(c===0&&r>0){
        ay.ticks.forEach((v,i)=>tickLabelY(g,ay.labels[i],Y(v),x0-15));
      }
    }
  }
  fig.titles.forEach((d,i)=>drawTitle(root,symbols[i],d,i));
  fig.xLabels.forEach((d,i)=>{
    const t=mathText(root,'x-axis-title-'+i,symbols[i],fig.sub,d[0],d[1],34);
    fit(t,d[2]);
  });
  fig.yLabels.forEach((d,i)=>{
    const t=mathText(root,'y-axis-title-'+(i+1),symbols[i+1],fig.sub,0,0,34,'translate(32 '+d[0]+') rotate(-90)');
    fit(t,d[1]);
  });
}
drawFigure({name:'upper-corner-plot',size:256.5,x:[117,385.7,654.4,923.1],y:[56,324.7,593.4,862.1],axes:axesUpper,grid:gridUpper,titles:titlesUpper,labelGap:14,sub:'p,1',
  xLabels:[[221,1220,46],[488,1220,51],[755,1220,55],[1025,1220,53]],yLabels:[[453,49],[721,55],[991,53]]});
drawFigure({name:'lower-corner-plot',size:252,x:[115,379.6,644,908.6],y:[1327,1591.7,1856.4,2120.8],axes:axesLower,grid:gridLower,titles:titlesLower,labelGap:13,sub:'p,2',
  xLabels:[[219,2474,45],[481,2474,50],[743,2474,55],[1008,2474,54]],yLabels:[[1718,48],[1982,55],[2243,49]]});
</script>
</body>
</html>
